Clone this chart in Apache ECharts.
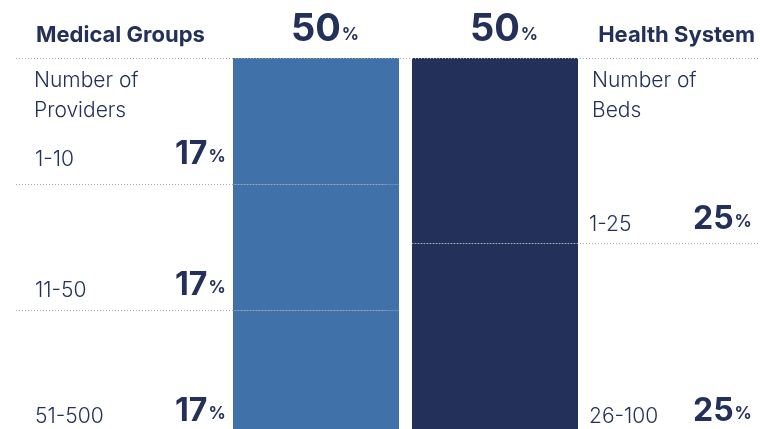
<!DOCTYPE html>
<html>
<head>
<meta charset="utf-8">
<title>Medical Groups vs Health System</title>
<script src="https://cdn.jsdelivr.net/npm/echarts@6/dist/echarts.min.js"></script>
<style>
  html, body { margin: 0; padding: 0; background: #fff; }
  #chart { width: 760px; height: 429px; }
</style>
</head>
<body>
<div id="chart"></div>
<script>
// share of respondents by organisation type
const categories = ['Medical Groups', 'Health System'];
const totals = [50, 50];

// Medical Groups, split by number of providers
const providerBands = ['1-10', '11-50', '51-500'];
const providerShares = [17, 17, 17];

// Health System, split by number of beds
const bedBands = ['1-25', '26-100'];
const bedShares = [25, 25];

const subHeadings = ['Number of\nProviders', 'Number of\nBeds'];

const NAVY = '#23305a';
const BLUE = '#4171a9';
const DOT = '#a9a9a9';
const FONT = 'Inter, "Noto Sans", sans-serif';

// how far each row label sits above the bottom edge of its segment
const providerLift = [14, 9, 2];
const bedLift = [8, 2];

const rich = {
  bandL: { fontFamily: FONT, fontSize: 21, fontWeight: 300, color: NAVY, width: 140, lineHeight: 24, verticalAlign: 'bottom' },
  bandR: { fontFamily: FONT, fontSize: 21, fontWeight: 300, color: NAVY, width: 104, lineHeight: 24, verticalAlign: 'bottom' },
  num: { fontFamily: FONT, fontSize: 32, fontWeight: 'bold', color: NAVY, lineHeight: 32, verticalAlign: 'bottom' },
  pct: { fontFamily: FONT, fontSize: 17, fontWeight: 'bold', color: NAVY, lineHeight: 18, padding: [0, 0, 5, 1], verticalAlign: 'bottom' }
};

// running totals = where the dotted separators go
function cuts(arr) {
  const out = [];
  let acc = 0;
  for (let i = 0; i < arr.length - 1; i++) {
    acc += arr[i];
    out.push(acc);
  }
  return out;
}

const series = [];
const rows = Math.max(providerShares.length, bedShares.length);
for (let i = 0; i < rows; i++) {
  const left = i < providerShares.length ? {
    value: providerShares[i],
    itemStyle: { color: BLUE },
    label: {
      show: true,
      position: [-198, '100%'],
      offset: [0, -providerLift[i]],
      align: 'left',
      verticalAlign: 'bottom',
      formatter: '{bandL|' + providerBands[i] + '}{num|' + providerShares[i] + '}{pct|%}',
      rich: rich
    }
  } : '-';
  const right = i < bedShares.length ? {
    value: bedShares[i],
    itemStyle: { color: NAVY },
    label: {
      show: true,
      position: ['100%', '100%'],
      offset: [11, -bedLift[i]],
      align: 'left',
      verticalAlign: 'bottom',
      formatter: '{bandR|' + bedBands[i] + '}{num|' + bedShares[i] + '}{pct|%}',
      rich: rich
    }
  } : '-';
  series.push({
    type: 'bar',
    stack: 'share',
    barWidth: 166,
    silent: true,
    data: [left, right]
  });
}

// dotted separators, on an empty series so they are not clipped to the grid
const lines = [[{ x: 16, yAxis: 0 }, { x: 760, yAxis: 0 }]];
cuts(providerShares).forEach(v => lines.push([{ x: 16, yAxis: v }, { x: 387, yAxis: v }]));
cuts(bedShares).forEach(v => lines.push([{ x: 412, yAxis: v }, { x: 760, yAxis: v }]));
series.push({
  type: 'line',
  data: [],
  clip: false,
  silent: true,
  markLine: {
    silent: true,
    symbol: 'none',
    label: { show: false },
    lineStyle: { color: DOT, type: [1, 2], width: 1 },
    emphasis: { disabled: true },
    data: lines
  }
});

const chart = echarts.init(document.getElementById('chart'));
chart.setOption({
  animation: false,
  backgroundColor: '#fff',
  title: [
    { text: categories[0], left: 36, top: 24, padding: 0,
      textStyle: { fontFamily: FONT, fontSize: 22, fontWeight: 'bold', color: NAVY, lineHeight: 22 } },
    { text: categories[1], right: 5, top: 24, padding: 0,
      textStyle: { fontFamily: FONT, fontSize: 22, fontWeight: 'bold', color: NAVY, lineHeight: 22 } },
    { text: subHeadings[0], left: 34, top: 66, padding: 0,
      textStyle: { fontFamily: FONT, fontSize: 21, fontWeight: 300, color: NAVY, lineHeight: 30 } },
    { text: subHeadings[1], left: 592, top: 66, padding: 0,
      textStyle: { fontFamily: FONT, fontSize: 21, fontWeight: 300, color: NAVY, lineHeight: 30 } }
  ],
  grid: { left: 226.5, right: 175.5, top: 58, bottom: 0, containLabel: false },
  xAxis: {
    type: 'category',
    position: 'top',
    data: categories,
    axisLine: { show: false },
    axisTick: { show: false },
    axisLabel: {
      interval: 0,
      margin: 9,
      formatter: (v, i) => '{n|' + totals[i] + '}{p|%}',
      rich: {
        n: { fontFamily: FONT, fontSize: 38, fontWeight: 'bold', color: NAVY, lineHeight: 38, padding: [0, 0, 0, 18], verticalAlign: 'bottom' },
        p: { fontFamily: FONT, fontSize: 17, fontWeight: 'bold', color: NAVY, lineHeight: 18, padding: [0, 0, 6, 1], verticalAlign: 'bottom' }
      }
    }
  },
  yAxis: { type: 'value', inverse: true, min: 0, max: 50, show: false, splitLine: { show: false } },
  series: series
});
</script>
</body>
</html>
